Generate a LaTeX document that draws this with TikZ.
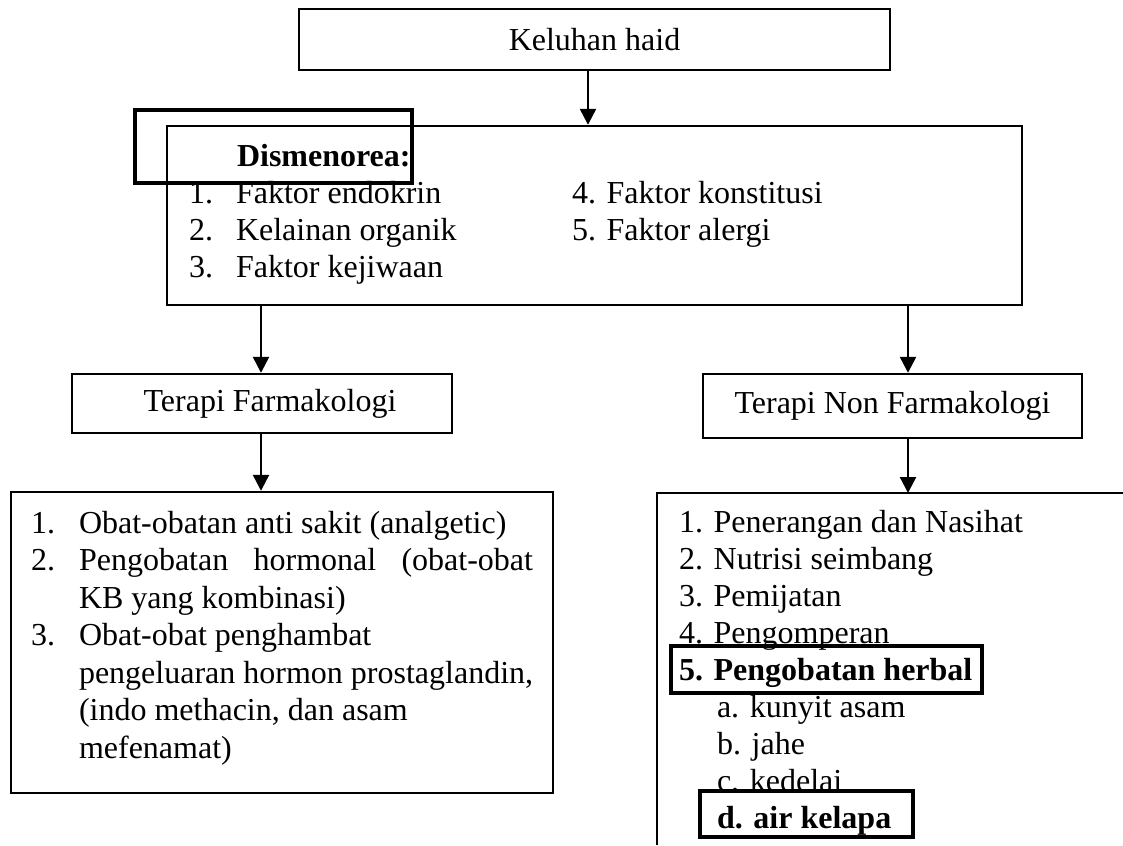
\documentclass[tikz,border=0pt]{standalone}
\usepackage{fontspec}
\setmainfont{Liberation Serif}
\usetikzlibrary{arrows.meta}
\tikzset{
  box/.style={draw, line width=2.4pt, rectangle, inner sep=0pt, align=center},
  hibox/.style={draw, line width=4pt, rectangle, inner sep=0pt},
  arr/.style={line width=2.4pt, -{Triangle[length=16pt,width=16pt]}},
  txt/.style={anchor=base west, inner sep=0pt, outer sep=0pt},
}
\begin{document}
\begin{tikzpicture}[x=1pt,y=-1pt,font=\fontsize{32}{37}\selectfont]
\useasboundingbox (0,0) rectangle (1123,845);
\fill[white] (0,0) rectangle (1123,845);

% boxes
\node[box, minimum width=591pt, minimum height=61pt] (keluhan) at (594.5,39.5) {Keluhan haid};
\node[box, minimum width=855pt, minimum height=179pt] (dis) at (594.5,215.5) {};
\node[box, minimum width=380pt, minimum height=59pt] (tf) at (262,403.5) {\hspace{16pt}Terapi Farmakologi};
\node[box, minimum width=379pt, minimum height=64pt] (tnf) at (892.5,406) {Terapi Non Farmakologi};
\node[box, minimum width=542pt, minimum height=301pt] (lb) at (282,642.5) {};

% open right box
\coordinate (rbtl) at (657,493);
\coordinate (rbbl) at (657,845);
\coordinate (rbtr) at (1123,493);
\draw[line width=2.4pt] (rbbl) -- (rbtl) -- (rbtr);

% Dismenorea text
\node[txt] (dtitle) at (237,167) {\bfseries Dismenorea:};
\node[txt] (d1n) at (189,203) {1.};
\node[txt] (d1) at (236,203) {Faktor endokrin};
\node[txt] (d2n) at (189,240) {2.};
\node[txt] (d2) at (236,240) {Kelainan organik};
\node[txt] (d3n) at (189,277) {3.};
\node[txt] (d3) at (236,277) {Faktor kejiwaan};
\node[txt] (d4) at (572,203) {4. Faktor konstitusi};
\node[txt] (d5) at (572,240) {5. Faktor alergi};
\node[hibox, minimum width=277pt, minimum height=73pt] (dhi) at (273.5,146.5) {};

% left box text
\node[txt] (l1n) at (31,533) {1.};
\node[txt] (l1) at (79,533) {Obat-obatan anti sakit (analgetic)};
\node[txt] (l2n) at (31,570.5) {2.};
\node[txt] (l2) at (79,570.5) {\makebox[454pt][s]{Pengobatan hormonal (obat-obat}};
\node[txt] (l2b) at (79,608) {KB yang kombinasi)};
\node[txt] (l3n) at (31,645.5) {3.};
\node[txt] (l3) at (79,645.5) {Obat-obat penghambat};
\node[txt] (l3b) at (79,683) {pengeluaran hormon prostaglandin,};
\node[txt] (l3c) at (79,720.5) {(indo methacin, dan asam};
\node[txt] (l3d) at (79,758) {mefenamat)};

% right box text
\node[txt] (r1) at (679,532) {1. Penerangan dan Nasihat};
\node[txt] (r2) at (679,569) {2. Nutrisi seimbang};
\node[txt] (r3) at (679,606) {3. Pemijatan};
\node[txt] (r4) at (679,643) {4. Pengomperan};
\node[txt] (r5) at (679,680) {\bfseries 5. Pengobatan herbal};
\node[txt] (ra) at (717,717) {a. kunyit asam};
\node[txt] (rb) at (717,754) {b. jahe};
\node[txt] (rc) at (717,791) {c. kedelai};
\node[txt] (rd) at (717,828) {\bfseries d. air kelapa};
\node[hibox, minimum width=311pt, minimum height=47pt] (hherbal) at (826.5,669.5) {};
\node[hibox, minimum width=213pt, minimum height=46pt] (hair) at (806.5,814) {};

% arrows
\coordinate (xa) at (588,0);
\coordinate (xl) at (261,0);
\coordinate (xr) at (908,0);
\draw[arr] (keluhan.south -| xa) -- (dis.north -| xa);
\draw[arr] (dis.south -| xl) -- (tf.north -| xl);
\draw[arr] (dis.south -| xr) -- (tnf.north -| xr);
\draw[arr] (tf.south -| xl) -- (lb.north -| xl);
\draw[arr] (tnf.south -| xr) -- (rbtl -| xr);
\end{tikzpicture}
\end{document}
